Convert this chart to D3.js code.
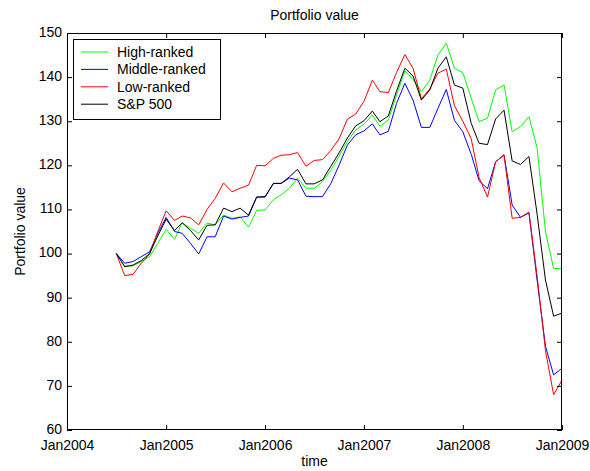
<!DOCTYPE html>
<html>
<head>
<meta charset="utf-8">
<script src="https://cdn.jsdelivr.net/npm/d3@7"></script>
<style>
  html, body { margin: 0; padding: 0; background: #fff; }
  svg text { font-family: "Liberation Sans", Arial, Helvetica, sans-serif; fill: #000; }
</style>
</head>
<body>
<svg id="chart" width="590" height="471"></svg>
<script>
// Monthly portfolio values, Jul 2004 .. Jan 2009 (indexed to 100 at start)
const months = d3.timeMonth.range(new Date(2004, 6, 1), new Date(2009, 1, 1));

const highRanked = [
  100, 97.2, 97.2, 98.2, 99.3, 102.3,
  105.5, 103.2, 107, 105.7, 104.6, 106.9, 106.5, 108.7, 108.0, 108.3, 106.0, 109.8,
  109.9, 112.2, 113.3, 114.8, 117.1, 114.8, 114.8, 116.3, 118.9, 122, 125.4, 128,
  129.3, 131.4, 128.8, 130.3, 135.9, 141.4, 139.5, 136.7, 139.3, 145, 147.7, 142,
  141, 135.2, 129.9, 130.7, 137.1, 138.2, 127.6, 128.8, 131, 124, 105, 96.6,
  96.6
];
const middleRanked = [
  100, 97.8, 98.2, 99.3, 100.4, 104.6,
  108.2, 105, 104.6, 102.3, 99.9, 103.8, 103.8, 108.5, 107.8, 108.2, 108.5, 112.8,
  112.8, 115.9, 115.9, 117.1, 116.7, 113, 112.9, 112.9, 115.9, 120, 124.6, 126.9,
  127.8, 129.4, 126.9, 127.7, 134, 138.6, 134.8, 128.6, 128.6, 132.9, 137.2, 130.2,
  127.6, 122.5, 116.5, 114.7, 120.8, 122.4, 111, 108.2, 109.2, 94, 79, 72.5,
  74
];
const lowRanked = [
  100, 95, 95.3, 97.8, 99.9, 105,
  109.7, 107.5, 108.5, 108.1, 106.5, 110, 112.5, 116, 114, 114.8, 115.5, 120,
  119.9, 121.6, 122.3, 122.4, 122.9, 119.8, 121.1, 121.3, 123.4, 126, 130.5, 131.6,
  134.5, 139.3, 136.7, 136.5, 141, 145.1, 142, 135.1, 137.3, 140.9, 141.8, 133.5,
  130, 126, 117.2, 112.8, 120.8, 122.3, 108, 108.2, 109.4, 95, 78, 68,
  71.3
];
const sp500 = [
  100, 97, 97.4, 98.4, 100, 104,
  107.8, 105.2, 107, 105.2, 103.1, 106.4, 106.5, 110.3, 109.5, 110.3, 108.7, 112.8,
  112.9, 115.9, 115.9, 117.4, 119.1, 115.8, 115.8, 116.7, 119.8, 122.8, 126.2, 128.9,
  130.1, 132.3, 129.9, 131.2, 136.8, 142, 140.3, 134.8, 137.1, 142, 144.6, 138.2,
  137.5, 129.5, 125, 124.7, 130.5, 132.5, 121, 120.2, 122, 109, 94, 85.8,
  86.5
];

const seriesNames = ["High-ranked", "Middle-ranked", "Low-ranked", "S&P 500"];
const seriesValues = [highRanked, middleRanked, lowRanked, sp500];
const seriesColors = ["#00ff00", "#0000ff", "#ff0000", "#000000"];

const xTicks = [2004, 2005, 2006, 2007, 2008, 2009].map(y => new Date(y, 0, 1));
const yTicks = [60, 70, 80, 90, 100, 110, 120, 130, 140, 150];

const margin = { left: 67, right: 28, top: 33, bottom: 41 };
const W = 590, H = 471;

const svg = d3.select("#chart");

const x = d3.scaleTime()
  .domain([new Date(2004, 0, 1), new Date(2009, 0, 1)])
  .range([margin.left, W - margin.right]);
const y = d3.scaleLinear()
  .domain([60, 150])
  .range([H - margin.bottom, margin.top]);

const x0 = margin.left, x1 = W - margin.right;
const y0 = H - margin.bottom, y1 = margin.top;
const tickLen = 5;

// data lines (drawn under the box)
const line = d3.line()
  .x((d, i) => x(months[i]))
  .y(d => y(d));

const plot = svg.append("g");
seriesValues.forEach((vals, k) => {
  plot.append("path")
    .datum(vals)
    .attr("fill", "none")
    .attr("stroke", seriesColors[k])
    .attr("stroke-width", 1)
    .attr("stroke-linejoin", "round")
    .attr("d", line);
});

// axes: bottom and left carry labels, top and right carry ticks only
const fmt = d3.timeFormat("%b%Y");
const axisStyle = g => {
  g.select(".domain").remove();
  g.selectAll(".tick line").attr("stroke", "#000");
  g.selectAll(".tick text").attr("font-size", 14).attr("fill", "#000");
};

svg.append("g")
  .attr("transform", `translate(0,${y0})`)
  .call(d3.axisBottom(x).tickValues(xTicks).tickFormat(fmt).tickSizeInner(-tickLen).tickSizeOuter(0).tickPadding(10))
  .call(axisStyle)
  .attr("font-family", null);

svg.append("g")
  .attr("transform", `translate(0,${y1})`)
  .call(d3.axisTop(x).tickValues(xTicks).tickFormat("").tickSizeInner(-tickLen).tickSizeOuter(0))
  .call(axisStyle);

svg.append("g")
  .attr("transform", `translate(${x0},0)`)
  .call(d3.axisLeft(y).tickValues(yTicks).tickFormat(d3.format("d")).tickSizeInner(-tickLen).tickSizeOuter(0).tickPadding(5))
  .call(axisStyle)
  .call(g => g.selectAll(".tick text").attr("dy", "0.24em"))
  .attr("font-family", null);

svg.append("g")
  .attr("transform", `translate(${x1},0)`)
  .call(d3.axisRight(y).tickValues(yTicks).tickFormat("").tickSizeInner(-tickLen).tickSizeOuter(0))
  .call(axisStyle);

// axes box
svg.append("rect")
  .attr("x", x0 + 0.5).attr("y", y1 + 0.5)
  .attr("width", x1 - x0 - 1).attr("height", y0 - y1 - 1)
  .attr("fill", "none").attr("stroke", "#000").attr("stroke-width", 1);

// title and axis labels
svg.append("text")
  .attr("x", (x0 + x1) / 2).attr("y", 20)
  .attr("text-anchor", "middle").attr("font-size", 14)
  .text("Portfolio value");

svg.append("text")
  .attr("x", (x0 + x1) / 2).attr("y", 466)
  .attr("text-anchor", "middle").attr("font-size", 14)
  .text("time");

svg.append("text")
  .attr("transform", `translate(25,${(y0 + y1) / 2}) rotate(-90)`)
  .attr("text-anchor", "middle").attr("font-size", 14)
  .text("Portfolio value");

// legend
const lg = svg.append("g");
lg.append("rect")
  .attr("x", 73.5).attr("y", 39.5)
  .attr("width", 147).attr("height", 80)
  .attr("fill", "#fff").attr("stroke", "#000").attr("stroke-width", 1);

seriesNames.forEach((name, k) => {
  const cy = 52 + k * 17.4;
  lg.append("line")
    .attr("x1", 81).attr("x2", 108)
    .attr("y1", cy).attr("y2", cy)
    .attr("stroke", seriesColors[k]).attr("stroke-width", 1);
  lg.append("text")
    .attr("x", 117).attr("y", cy)
    .attr("dy", "0.36em").attr("font-size", 14)
    .text(name);
});
</script>
</body>
</html>
